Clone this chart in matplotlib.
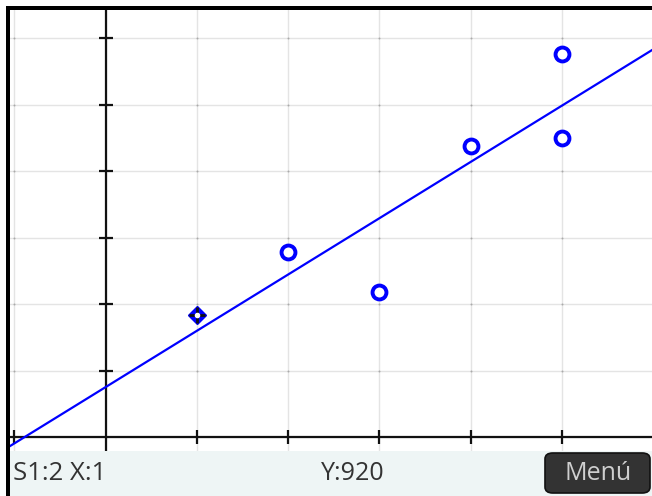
import numpy as np
import matplotlib
matplotlib.use("Agg")
import matplotlib.pyplot as plt
from matplotlib.patches import Rectangle, FancyBboxPatch

# data
x_vals = [1, 2, 3, 4, 5, 5]
y_vals = [920, 1390, 1090, 2190, 2250, 2880]
sel_index = 0
status_left = "S1:2 X:1"
status_mid = "Y:920"
menu_label = "Menú"
x_ticks = [-1, 1, 2, 3, 4, 5]
y_ticks = [500, 1000, 1500, 2000, 2500, 3000]
xlim = (-1.046, 5.985)
ylim = (-105, 3211)

W, H = 652, 496
fig = plt.figure(figsize=(W / 100, H / 100), dpi=100)
fig.patch.set_facecolor("white")

def fx(px):
    return px / W

def fy(py):
    return 1 - py / H

# plot axes
ax = fig.add_axes([fx(10), fy(451), (652 - 10) / W, (451 - 10) / H])
ax.set_xlim(*xlim)
ax.set_ylim(*ylim)
ax.set_axis_off()

# grid
for gx in x_ticks + [0]:
    ax.axvline(gx, color="#e4e4e4", lw=1.0, zorder=1)
for gy in y_ticks + [0]:
    ax.axhline(gy, color="#e4e4e4", lw=1.0, zorder=1)
gxx, gyy = np.meshgrid(x_ticks, y_ticks)
ax.scatter(gxx.ravel(), gyy.ravel(), s=2, color="#aaaaaa", zorder=2, linewidths=0)

# axes
ax.axhline(0, color="#111111", lw=1.6, zorder=3)
ax.axvline(0, color="#111111", lw=1.6, zorder=3)
ax.plot(x_ticks, [0] * len(x_ticks), ls="none", marker="|", ms=10, mew=1.6, color="#111111", zorder=3)
ax.plot([0] * len(y_ticks), y_ticks, ls="none", marker="_", ms=10, mew=1.6, color="#111111", zorder=3)

# regression line
slope, intercept = np.polyfit(x_vals, y_vals, 1)
lx = np.array(xlim)
ax.plot(lx, slope * lx + intercept, color="#0000ff", lw=1.6, zorder=4)

# points
for i, (xv, yv) in enumerate(zip(x_vals, y_vals)):
    if i == sel_index:
        ax.plot(xv, yv, marker="D", ms=9, color="#0000ff", mec="#0000ff", zorder=5)
        ax.plot(xv, yv, marker="+", ms=11, mew=2, color="#111111", zorder=6)
        ax.plot(xv, yv, marker="o", ms=3, color="white", mec="white", zorder=7)
    else:
        ax.plot(xv, yv, marker="o", ms=10, mfc="white", mec="#0000ff", mew=2.8, zorder=5)

# bottom status bar
fig.add_artist(Rectangle((fx(10), fy(496)), (W - 10) / W, 45 / H, transform=fig.transFigure,
                         facecolor="#eef5f5", edgecolor="none", zorder=1))
fig.text(fx(13), fy(473), status_left, fontsize=18.5, color="#333333", ha="left", va="center",
         family="Open Sans")
fig.text(fx(353), fy(473), status_mid, fontsize=18, color="#333333", ha="center", va="center",
         family="Open Sans")
btn = FancyBboxPatch((fx(545), fy(493)), (650 - 545) / W, 40 / H, transform=fig.transFigure,
                     boxstyle="round,pad=0,rounding_size=0.012", facecolor="#333333",
                     edgecolor="#111111", lw=1.2, zorder=2)
fig.add_artist(btn)
fig.text(fx(598), fy(473), menu_label, fontsize=18, color="#cfcfcf", ha="center", va="center",
         family="Open Sans", zorder=3)

# black frame (top and left)
fig.add_artist(Rectangle((fx(6), fy(10)), (W - 6) / W, 4 / H, transform=fig.transFigure,
                         facecolor="black", edgecolor="none", zorder=10))
fig.add_artist(Rectangle((fx(6), fy(496)), 4 / W, (496 - 6) / H, transform=fig.transFigure,
                         facecolor="black", edgecolor="none", zorder=10))

fig.savefig("out.png", dpi=100)
